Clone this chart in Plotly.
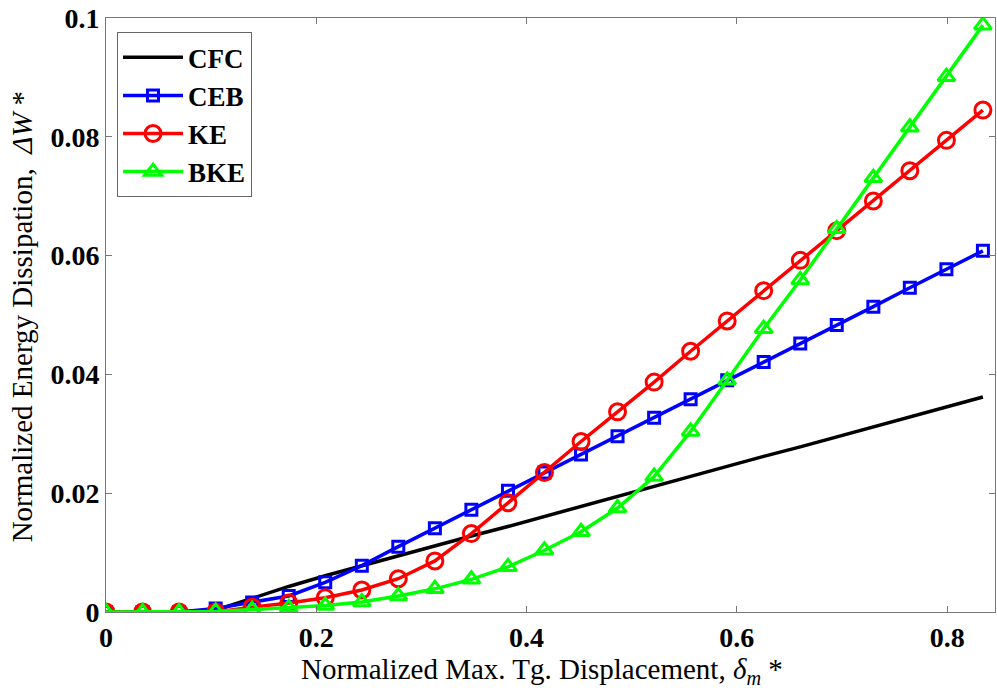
import plotly.graph_objects as go

x_disp = [0, 0.0348, 0.0695, 0.1043, 0.139, 0.1738, 0.2085, 0.2433, 0.278, 0.3128,
          0.3475, 0.3823, 0.417, 0.4518, 0.4865, 0.5213, 0.556, 0.5908, 0.6255, 0.6603,
          0.695, 0.7298, 0.7645, 0.7993, 0.834]

cfc = [0, 0, 0, 0.0003, 0.0023, 0.0043, 0.0061, 0.0078, 0.0094, 0.0111,
       0.0128, 0.0144, 0.0161, 0.0178, 0.0195, 0.0211, 0.0228, 0.0245, 0.0262, 0.0278,
       0.0295, 0.0312, 0.0329, 0.0345, 0.0362]

ceb = [0, 0, 0, 0.0006, 0.0016, 0.0027, 0.0050, 0.0078, 0.0110, 0.0141,
       0.0172, 0.0204, 0.0235, 0.0265, 0.0296, 0.0327, 0.0358, 0.0390, 0.0421, 0.0452,
       0.0483, 0.0514, 0.0546, 0.0577, 0.0608]

ke = [0, 0, 0, 0, 0.0008, 0.0015, 0.0024, 0.0037, 0.0056, 0.0086,
      0.0132, 0.0184, 0.0235, 0.0287, 0.0337, 0.0387, 0.0439, 0.0490, 0.0541, 0.0592,
      0.0642, 0.0692, 0.0743, 0.0794, 0.0845]

bke = [0, 0, 0, 0.0001, 0.0004, 0.0007, 0.0011, 0.0017, 0.0027, 0.0039,
       0.0055, 0.0076, 0.0104, 0.0135, 0.0175, 0.0228, 0.0304, 0.0390, 0.0477, 0.0559,
       0.0645, 0.0731, 0.0816, 0.0901, 0.0988]

x_ticks = [0, 0.2, 0.4, 0.6, 0.8]
x_tick_labels = ["0", "0.2", "0.4", "0.6", "0.8"]
y_ticks = [0, 0.02, 0.04, 0.06, 0.08, 0.1]
y_tick_labels = ["0", "0.02", "0.04", "0.06", "0.08", "0.1"]

x_title = "Normalized Max. Tg. Displacement, <i>δ</i><sub><i>m</i></sub> *"
y_title = "Normalized Energy Dissipation,  <i>ΔW</i> *"

serif = "Liberation Serif, Times New Roman, serif"

fig = go.Figure()
fig.add_trace(go.Scatter(x=x_disp, y=cfc, name="CFC", mode="lines",
                         line=dict(color="#000000", width=3.5)))
fig.add_trace(go.Scatter(x=x_disp, y=ceb, name="CEB", mode="lines+markers",
                         line=dict(color="#0000FF", width=3.5),
                         marker=dict(symbol="square-open", size=11, color="#0000FF",
                                     line=dict(width=3, color="#0000FF"))))
fig.add_trace(go.Scatter(x=x_disp, y=ke, name="KE", mode="lines+markers",
                         line=dict(color="#FF0000", width=3.5),
                         marker=dict(symbol="circle-open", size=16, color="#FF0000",
                                     line=dict(width=3, color="#FF0000"))))
fig.add_trace(go.Scatter(x=x_disp, y=bke, name="BKE", mode="lines+markers",
                         line=dict(color="#00FF00", width=3.5),
                         marker=dict(symbol="triangle-up-open", size=15, color="#00FF00",
                                     line=dict(width=3, color="#00FF00"))))

axis_common = dict(
    showline=True, linecolor="#777777", linewidth=1, mirror="ticks",
    ticks="inside", ticklen=6, tickcolor="#777777", tickwidth=1,
    showgrid=False, zeroline=False,
    tickfont=dict(family=serif, size=28, color="#000000", weight="bold"),
)

fig.update_xaxes(range=[0, 0.8455], tickvals=x_ticks, ticktext=x_tick_labels, **axis_common)
fig.update_yaxes(range=[0, 0.1], tickvals=y_ticks, ticktext=y_tick_labels, **axis_common)

fig.add_annotation(text=x_title, xref="paper", yref="paper", x=0.491, y=-0.066,
                   xanchor="center", yanchor="top", showarrow=False,
                   font=dict(family=serif, size=29, color="#000000"))
fig.add_annotation(text=y_title, xref="paper", yref="paper", x=-0.095, y=0.497,
                   xanchor="center", yanchor="middle", textangle=-90, showarrow=False,
                   font=dict(family=serif, size=29, color="#000000"))

fig.update_layout(
    width=997, height=694,
    margin=dict(l=106, r=2, t=18, b=82),
    plot_bgcolor="#FFFFFF", paper_bgcolor="#FFFFFF",
    legend=dict(x=0.0124, y=0.976, xanchor="left", yanchor="top",
                bgcolor="#FFFFFF", bordercolor="#666666", borderwidth=1,
                font=dict(family=serif, size=27, color="#000000", weight="bold"),
                tracegroupgap=0, itemwidth=60),
    showlegend=True,
)

fig.write_html("out.html")
